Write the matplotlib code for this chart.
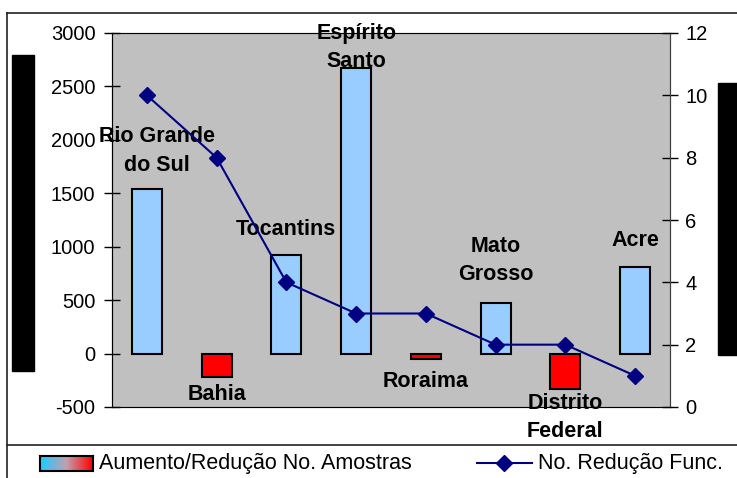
import matplotlib.pyplot as plt
import numpy as np
from matplotlib.patches import Rectangle
from matplotlib.lines import Line2D
from matplotlib.colors import LinearSegmentedColormap

plt.rcParams['font.family'] = ['Liberation Sans', 'DejaVu Sans']
plt.rcParams['axes.unicode_minus'] = False

states = ["Rio Grande\ndo Sul", "Bahia", "Tocantins", "Espírito\nSanto",
          "Roraima", "Mato\nGrosso", "Distrito\nFederal", "Acre"]
amostras = [1540, -220, 920, 2670, -50, 475, -335, 810]
reducao_func = [10, 8, 4, 3, 3, 2, 2, 1]

# label offsets in pixels (x, y) from the bar end
label_offsets = [(10, 38), (0, -17), (0, 26), (0, 21),
                 (0, -23), (0, 42), (0, -28), (0, 27)]

fig = plt.figure(figsize=(7.37, 4.78), dpi=100)
ax = fig.add_axes([112 / 737, 1 - 407 / 478, 558 / 737, 374 / 478])
ax.set_facecolor("#C0C0C0")

x = np.arange(len(states)) + 0.5
colors = ["#99CCFF" if v >= 0 else "#FF0000" for v in amostras]
ax.bar(x, amostras, width=0.43, color=colors, edgecolor="black", linewidth=1.5, zorder=2)
ax.set_xlim(0, len(states))
ax.set_ylim(-500, 3000)
ax.set_yticks(range(-500, 3001, 500))
ax.set_xticks([])
ax.tick_params(axis="y", direction="inout", length=12, width=1, labelsize=14.5, pad=6, colors="black")

for i, (s, v) in enumerate(zip(states, amostras)):
    dx, dy = label_offsets[i]
    ax.annotate(s, (x[i], v), xytext=(dx, dy), textcoords="offset pixels",
                ha="center", va="center", fontsize=15.5, fontweight="bold",
                linespacing=1.45, annotation_clip=False, zorder=5)

for side in ["top", "bottom"]:
    ax.spines[side].set_color("#808080")
ax.spines["left"].set_color("#404040")
ax.spines["right"].set_color("#404040")

ax2 = ax.twinx()
ax2.plot(x, reducao_func, color="#000080", marker="D", markersize=8, linewidth=1.5, zorder=3)
ax2.set_ylim(0, 12)
ax2.set_yticks(range(0, 13, 2))
ax2.tick_params(axis="y", direction="inout", length=12, width=1, labelsize=14.5, pad=5)
ax2.spines["right"].set_color("#404040")

# outer frame and redacted axis titles
fig.add_artist(Line2D([7 / 737, 7 / 737], [0, 1 - 13 / 478], transform=fig.transFigure, color="#222222", lw=1.2))
fig.add_artist(Line2D([7 / 737, 1], [1 - 13 / 478, 1 - 13 / 478], transform=fig.transFigure, color="#222222", lw=1.2))
fig.add_artist(Line2D([7 / 737, 1], [1 - 445 / 478, 1 - 445 / 478], transform=fig.transFigure, color="#222222", lw=1.2))
fig.add_artist(Rectangle((12 / 737, 1 - 371 / 478), 22 / 737, 316 / 478, transform=fig.transFigure, color="black"))
fig.add_artist(Rectangle((718 / 737, 1 - 355 / 478), 19 / 737, 272 / 478, transform=fig.transFigure, color="black"))

# legend
lax = fig.add_axes([40 / 737, 1 - 471 / 478, 53 / 737, 15 / 478])
grad = np.linspace(0, 1, 100).reshape(1, -1)
cmap = LinearSegmentedColormap.from_list("g", ["#1ECBFF", "#C0A0B0", "#FF0000"])
lax.imshow(grad, aspect="auto", cmap=cmap, extent=[0, 1, 0, 1])
lax.set_xticks([])
lax.set_yticks([])
for sp in lax.spines.values():
    sp.set_linewidth(1.5)
fig.text(99 / 737, 1 - 463 / 478, "Aumento/Redução No. Amostras", fontsize=15.5, va="center")
fig.add_artist(Line2D([477 / 737, 532 / 737], [1 - 463 / 478] * 2, transform=fig.transFigure,
                      color="#000080", lw=1.5))
fig.add_artist(Line2D([504 / 737], [1 - 463 / 478], transform=fig.transFigure,
                      color="#000080", marker="D", markersize=8))
fig.text(538 / 737, 1 - 463 / 478, "No. Redução Func.", fontsize=15.5, va="center")

fig.savefig("out.png", dpi=100)
